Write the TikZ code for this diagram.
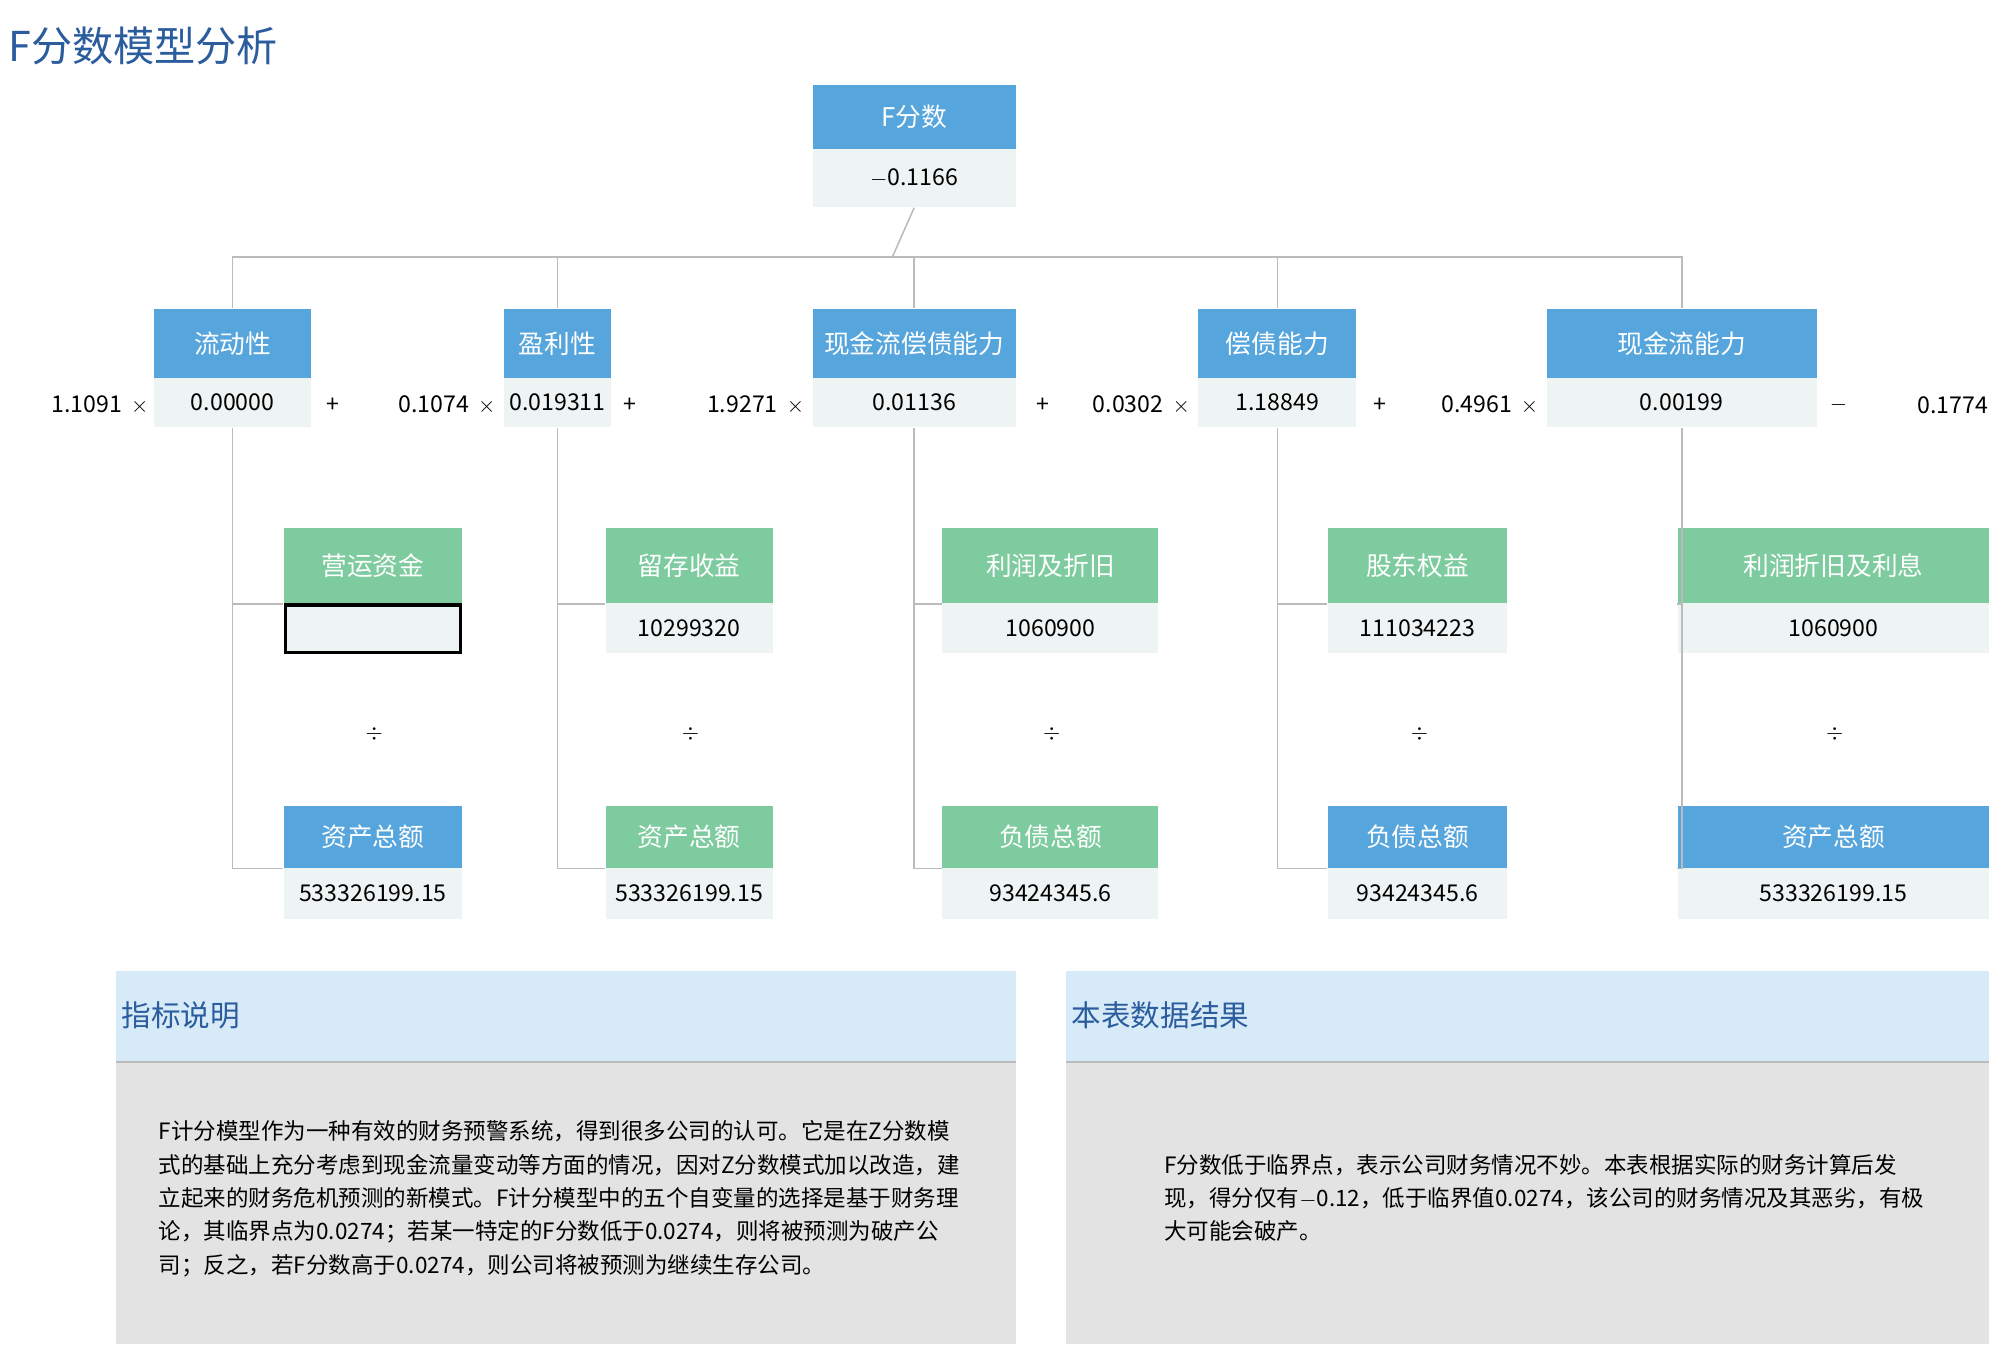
\documentclass[tikz,border=0pt]{standalone}
\usepackage{fontspec}
\setmainfont{Noto Sans CJK SC}
\definecolor{hblue}{HTML}{56A5DC}
\definecolor{hgreen}{HTML}{7DCB9E}
\definecolor{vbg}{HTML}{EEF3F3}
\definecolor{tblue}{HTML}{2B5C9E}
\definecolor{pblue}{HTML}{D6EAF8}
\definecolor{pgrey}{HTML}{E3E3E3}
\definecolor{lgrey}{HTML}{BBBBBB}
\tikzset{
  every picture/.style={line width=1.2pt},
  hdr/.style={fill=hblue,text=white,inner sep=0pt,font=\fontsize{20}{24}\selectfont},
  hdrg/.style={hdr,fill=hgreen},
  val/.style={fill=vbg,inner sep=0pt,font=\fontsize{18}{22}\selectfont},
  op/.style={inner sep=0pt,font=\fontsize{18}{22}\selectfont},
  link/.style={draw=lgrey,line width=1.2pt},
  body/.style={inner sep=0pt,anchor=north west,align=left,font=\fontsize{17.5}{26}\selectfont},
}
\begin{document}
\begin{tikzpicture}[x=1pt,y=1pt,yscale=-1]
\useasboundingbox[fill=white] (0,0) rectangle (1568,1052);

% title
\node[anchor=west,inner sep=0pt,text=tblue,font=\fontsize{32}{36}\selectfont] (title) at (6,36) {F分数模型分析};

% top score
\node[hdr,minimum width=158,minimum height=50] (fh) at (711,91) {F分数};
\node[val,minimum width=158,minimum height=45] (fv) at (711,138.5) {$-$0.1166};
\coordinate (jn) at (694,200);

% level two
\node[hdr,minimum width=122,minimum height=54] (l1h) at (181,267) {流动性};
\node[val,minimum width=122,minimum height=38] (l1v) at (181,313) {0.00000};
\node[hdr,minimum width=83,minimum height=54] (l2h) at (433.5,267) {盈利性};
\node[val,minimum width=83,minimum height=38] (l2v) at (433.5,313) {0.019311};
\node[hdr,minimum width=158,minimum height=54] (l3h) at (711,267) {现金流偿债能力};
\node[val,minimum width=158,minimum height=38] (l3v) at (711,313) {0.01136};
\node[hdr,minimum width=123,minimum height=54] (l4h) at (993.5,267) {偿债能力};
\node[val,minimum width=123,minimum height=38] (l4v) at (993.5,313) {1.18849};
\node[hdr,minimum width=210,minimum height=54] (l5h) at (1308,267) {现金流能力};
\node[val,minimum width=210,minimum height=38] (l5v) at (1308,313) {0.00199};

% coefficients
\node[op,anchor=east] (k1) at (116,315) {1.1091\, $\times$};
\node[op] (p1) at (259,315) {+};
\node[op,anchor=east] (k2) at (386,315) {0.1074\, $\times$};
\node[op] (p2) at (490,315) {+};
\node[op,anchor=east] (k3) at (626,315) {1.9271\, $\times$};
\node[op] (p3) at (811,315) {+};
\node[op,anchor=east] (k4) at (926,315) {0.0302\, $\times$};
\node[op] (p4) at (1073,315) {+};
\node[op,anchor=east] (k5) at (1197,315) {0.4961\, $\times$};
\node[op] (p5) at (1430,315) {$-$};
\node[op,anchor=east] (k6) at (1547,315) {0.1774};

% level three
\node[hdrg,minimum width=138,minimum height=58] (a1h) at (290,440) {营运资金};
\node[val,draw=black,line width=2.5pt,minimum width=136,minimum height=37] (a1v) at (290,489) {};
\node[op] (d1) at (291,571) {$\div$};
\node[hdr,minimum width=138,minimum height=48] (b1h) at (290,651) {资产总额};
\node[val,minimum width=138,minimum height=40] (b1v) at (290,695) {533326199.15};

\node[hdrg,minimum width=130,minimum height=58] (a2h) at (536,440) {留存收益};
\node[val,minimum width=130,minimum height=39] (a2v) at (536,488.5) {10299320};
\node[op] (d2) at (537,571) {$\div$};
\node[hdrg,minimum width=130,minimum height=48] (b2h) at (536,651) {资产总额};
\node[val,minimum width=130,minimum height=40] (b2v) at (536,695) {533326199.15};

\node[hdrg,minimum width=168,minimum height=58] (a3h) at (817,440) {利润及折旧};
\node[val,minimum width=168,minimum height=39] (a3v) at (817,488.5) {1060900};
\node[op] (d3) at (818,571) {$\div$};
\node[hdrg,minimum width=168,minimum height=48] (b3h) at (817,651) {负债总额};
\node[val,minimum width=168,minimum height=40] (b3v) at (817,695) {93424345.6};

\node[hdrg,minimum width=139,minimum height=58] (a4h) at (1102.5,440) {股东权益};
\node[val,minimum width=139,minimum height=39] (a4v) at (1102.5,488.5) {111034223};
\node[op] (d4) at (1104,571) {$\div$};
\node[hdr,minimum width=139,minimum height=48] (b4h) at (1102.5,651) {负债总额};
\node[val,minimum width=139,minimum height=40] (b4v) at (1102.5,695) {93424345.6};

\node[hdrg,minimum width=242,minimum height=58] (a5h) at (1426,440) {利润折旧及利息};
\node[val,minimum width=242,minimum height=39] (a5v) at (1426,488.5) {1060900};
\node[op] (d5) at (1427,571) {$\div$};
\node[hdr,minimum width=242,minimum height=48] (b5h) at (1426,651) {资产总额};
\node[val,minimum width=242,minimum height=40] (b5v) at (1426,695) {533326199.15};

% tree links
\draw[link] (fv.south) -- (jn);
\draw[link] (l1h.north) |- (jn) -| (l5h.north);
\draw[link] (l2h.north) -- (l2h.north|-jn);
\draw[link] (l3h.north) -- (l3h.north|-jn);
\draw[link] (l4h.north) -- (l4h.north|-jn);
\foreach \i in {1,...,5}{
  \draw[link] (l\i v.south) |- (b\i h.south west);
  \draw[link] (l\i v.south|-a\i h.south) -- (a\i h.south west);
}

% panels
\fill[pblue] (90,755) rectangle (790,825);
\fill[pgrey] (90,827) rectangle (790,1045);
\draw[lgrey,line width=2pt] (90,826) -- (790,826);
\node[anchor=west,inner sep=0pt,text=tblue,font=\fontsize{23}{27}\selectfont] (ph1) at (94,790) {指标说明};
\node[body] (pb1) at (123,871) {F计分模型作为一种有效的财务预警系统，得到很多公司的认可。它是在Z分数模\\式的基础上充分考虑到现金流量变动等方面的情况，因对Z分数模式加以改造，建\\立起来的财务危机预测的新模式。F计分模型中的五个自变量的选择是基于财务理\\论，其临界点为0.0274；若某一特定的F分数低于0.0274，则将被预测为破产公\\司；反之，若F分数高于0.0274，则公司将被预测为继续生存公司。};

\fill[pblue] (829,755) rectangle (1547,825);
\fill[pgrey] (829,827) rectangle (1547,1045);
\draw[lgrey,line width=2pt] (829,826) -- (1547,826);
\node[anchor=west,inner sep=0pt,text=tblue,font=\fontsize{23}{27}\selectfont] (ph2) at (833,790) {本表数据结果};
\node[body] (pb2) at (905,897) {F分数低于临界点，表示公司财务情况不妙。本表根据实际的财务计算后发\\现，得分仅有$-$0.12，低于临界值0.0274，该公司的财务情况及其恶劣，有极\\大可能会破产。};
\end{tikzpicture}
\end{document}
